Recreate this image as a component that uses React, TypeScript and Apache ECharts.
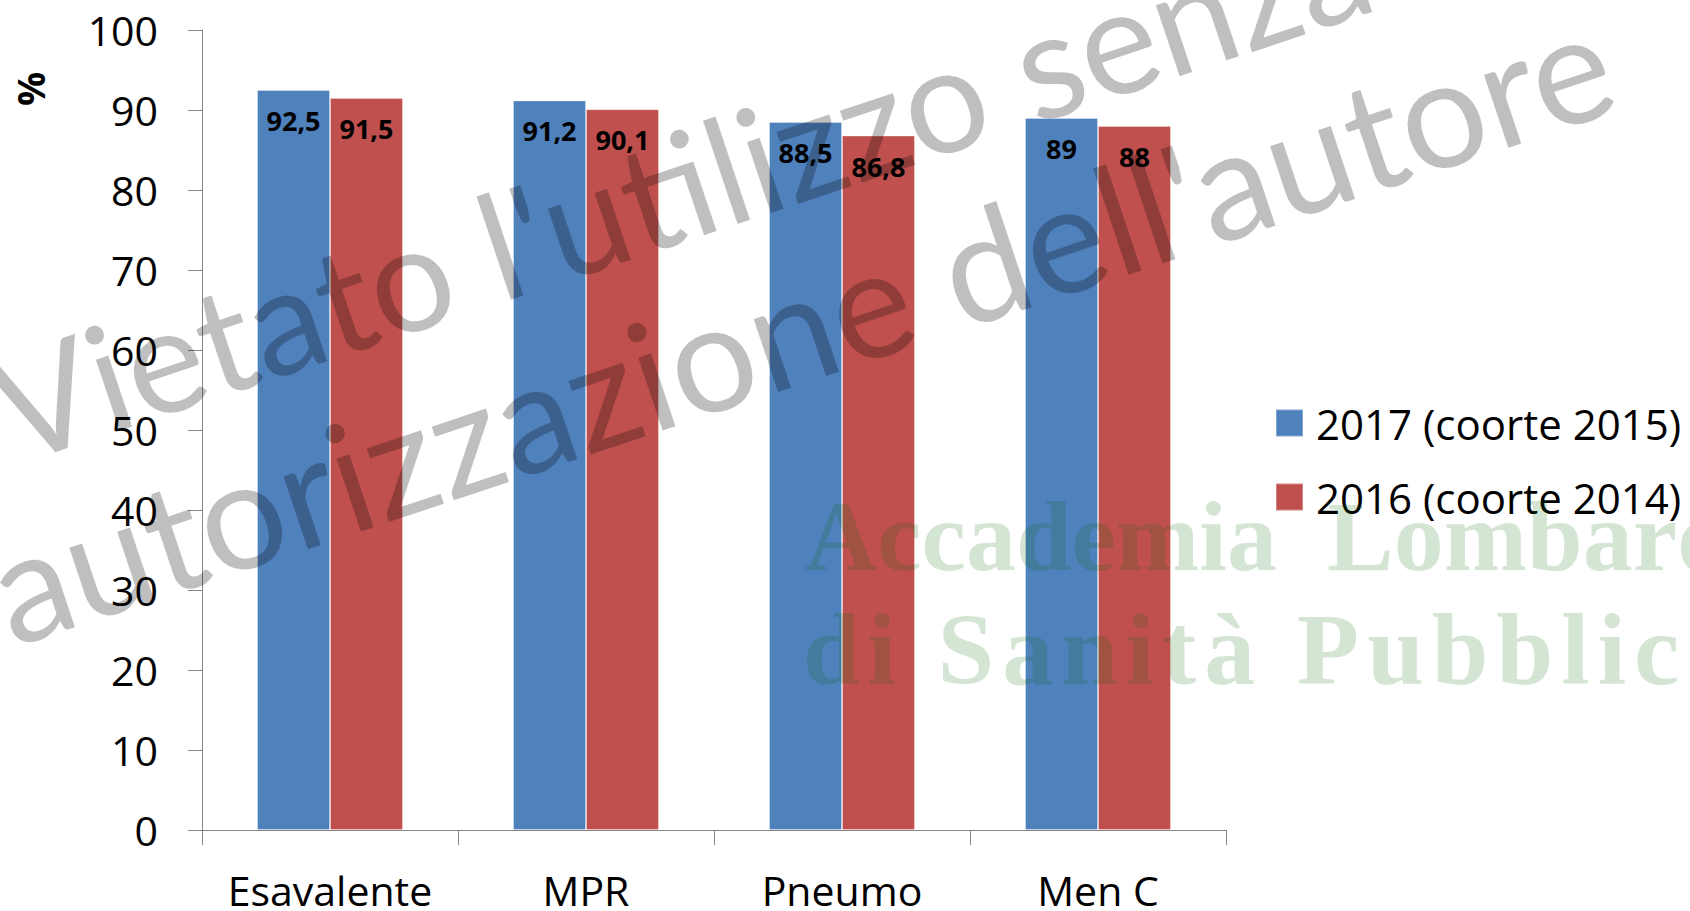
import React, { useEffect, useRef } from "react";
import * as echarts from "echarts";

const categories = ["Esavalente", "MPR", "Pneumo", "Men C"];
const values2017 = [92.5, 91.2, 88.5, 89];
const values2016 = [91.5, 90.1, 86.8, 88];
const seriesNames = ["2017 (coorte 2015)", "2016 (coorte 2014)"];
const seriesColors = ["#4F81BD", "#C0504D"];
const yMin = 0;
const yMax = 100;
const yInterval = 10;
const yAxisTitle = "%";
const grayWatermark = ["Vietato l'utilizzo senza", "autorizzazione dell'autore"];
const greenWatermark = ["Accademia  Lombarda", "di Sanità Pubblica"];

const FONT = '"Open Sans", "Noto Sans", sans-serif';
const WM_FONT = 'Lato, "Open Sans", sans-serif';
const SERIF = '"Liberation Serif", "DejaVu Serif", serif';

function spacedChars(text: string, x0: number, y: number, size: number, spacing: number, fill: string) {
  const canvas = document.createElement("canvas");
  const ctx = canvas.getContext("2d")!;
  const font = `bold ${size}px ${SERIF}`;
  ctx.font = font;
  const out: any[] = [];
  let x = x0;
  for (const ch of Array.from(text)) {
    if (ch !== " ") {
      out.push({
        type: "text",
        x,
        y,
        silent: true,
        z: 100,
        style: { text: ch, font, fill, textAlign: "left", textVerticalAlign: "middle", align: "left", verticalAlign: "middle" },
      });
    }
    x += ctx.measureText(ch).width + spacing;
  }
  return out;
}

export default function App() {
  const ref = useRef<HTMLDivElement>(null);
  useEffect(() => {
    if (!ref.current) return;
    const chart = echarts.init(ref.current, undefined, { renderer: "svg" });
    const rot = (18.5 * Math.PI) / 180;
    const grayFill = "rgba(0,0,0,0.25)";
    const greenFill = "rgba(0,100,0,0.17)";
    const label = {
      show: true,
      position: "insideTop",
      distance: 17,
      color: "#000",
      fontFamily: FONT,
      fontWeight: "bold",
      fontSize: 27,
      formatter: (p: any) => String(p.value).replace(".", ","),
    };
    chart.setOption({
      animation: false,
      backgroundColor: "#fff",
      textStyle: { fontFamily: FONT },
      grid: { left: 202, right: 464, top: 30, bottom: 81, containLabel: false, outerBoundsMode: "none" },
      legend: {
        orient: "vertical",
        left: 1275,
        top: 400,
        itemWidth: 27,
        itemHeight: 27,
        itemGap: 28,
        padding: 0,
        icon: "rect",
        data: seriesNames,
        textStyle: { fontFamily: FONT, fontSize: 42, color: "#000", lineHeight: 46, padding: [0, 0, 0, 8] },
      },
      xAxis: {
        type: "category",
        data: categories,
        axisLine: { lineStyle: { color: "#868686", width: 1 } },
        axisTick: { show: true, interval: 0, length: 15, lineStyle: { color: "#868686" } },
        axisLabel: { interval: 0, color: "#000", fontFamily: FONT, fontSize: 41, lineHeight: 36, margin: 42 },
      },
      yAxis: {
        type: "value",
        min: yMin,
        max: yMax,
        interval: yInterval,
        axisLine: { show: true, lineStyle: { color: "#868686", width: 1 } },
        axisTick: { show: true, length: 14, lineStyle: { color: "#868686" } },
        splitLine: { show: false },
        axisLabel: { color: "#000", fontFamily: FONT, fontSize: 41, margin: 44 },
      },
      series: [
        {
          name: seriesNames[0],
          type: "bar",
          data: values2017,
          barGap: "0%",
          barCategoryGap: "43%",
          itemStyle: { color: seriesColors[0], borderColor: "rgba(255,255,255,0.3)", borderWidth: 1 },
          label,
        },
        {
          name: seriesNames[1],
          type: "bar",
          data: values2016,
          barGap: "0%",
          barCategoryGap: "43%",
          itemStyle: { color: seriesColors[1], borderColor: "rgba(255,255,255,0.3)", borderWidth: 1 },
          label,
        },
      ],
      graphic: [
        {
          type: "text",
          x: 30,
          y: 89,
          rotation: Math.PI / 2,
          style: {
            text: yAxisTitle,
            font: `bold 38px ${FONT}`,
            fill: "#000",
            textAlign: "center",
            textVerticalAlign: "middle",
            align: "center",
            verticalAlign: "middle",
          },
        },
        {
          type: "text",
          x: 805,
          y: 536,
          silent: true,
          z: 100,
          style: {
            text: greenWatermark[0],
            font: `bold 100px ${SERIF}`,
            fill: greenFill,
            textAlign: "left",
            textVerticalAlign: "middle",
            align: "left",
            verticalAlign: "middle",
          },
        },
        ...spacedChars(greenWatermark[1], 803, 649, 102, 8, greenFill),
        {
          type: "text",
          x: -4,
          y: 412,
          rotation: rot,
          silent: true,
          z: 101,
          style: {
            text: grayWatermark[0],
            font: `148px ${WM_FONT}`,
            fill: grayFill,
            textAlign: "left",
            textVerticalAlign: "middle",
            align: "left",
            verticalAlign: "middle",
          },
        },
        {
          type: "text",
          x: -6,
          y: 592,
          rotation: rot,
          silent: true,
          z: 101,
          style: {
            text: grayWatermark[1],
            font: `152px ${WM_FONT}`,
            fill: grayFill,
            textAlign: "left",
            textVerticalAlign: "middle",
            align: "left",
            verticalAlign: "middle",
          },
        },
      ],
    });
    return () => chart.dispose();
  }, []);
  return <div ref={ref} style={{ position: "fixed", left: 0, top: 0, width: 1690, height: 911 }} />;
}
